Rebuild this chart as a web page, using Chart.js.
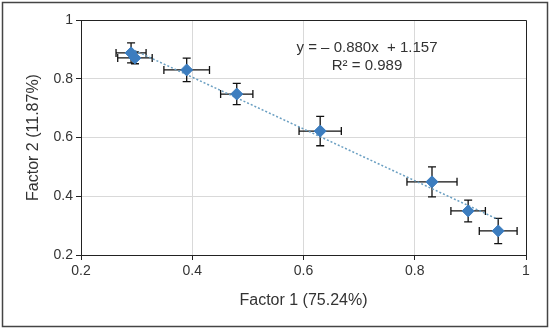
<!DOCTYPE html>
<html>
<head>
<meta charset="utf-8">
<script src="https://cdn.jsdelivr.net/npm/chart.js@4/dist/chart.umd.min.js"></script>
<style>
  html, body { margin: 0; padding: 0; background: #fff; }
  #wrap { width: 550px; height: 330px; }
</style>
</head>
<body>
<div id="wrap"><canvas id="myChart" width="550" height="330"></canvas></div>
<script>
// values
var factor1 = [0.290, 0.297, 0.390, 0.480, 0.630, 0.831, 0.896, 0.950];
var factor2 = [0.888, 0.871, 0.830, 0.748, 0.622, 0.449, 0.350, 0.282];
var err1 = [0.027, 0.031, 0.041, 0.029, 0.038, 0.045, 0.031, 0.034];
var err2 = [0.034, 0.020, 0.040, 0.036, 0.050, 0.051, 0.037, 0.043];
// trend line ends
var trendX = [0.29, 0.95];
var trendY = [0.902, 0.321];
var eqLines = ['y = \u2013 0.880x  + 1.157', 'R\u00b2 = 0.989'];

var FONT = "'Liberation Sans', Arial, sans-serif";
var TXT = '#333';

var pts = [];
for (var i = 0; i < factor1.length; i++) pts.push({x: factor1[i], y: factor2[i]});
var trend = [];
for (var j = 0; j < trendX.length; j++) trend.push({x: trendX[j], y: trendY[j]});

// error bars, drawn under the markers
var errorBars = {
  id: 'errorBars',
  beforeDatasetsDraw: function(chart) {
    var ctx = chart.ctx, xs = chart.scales.x, ys = chart.scales.y;
    ctx.save();
    ctx.strokeStyle = '#111';
    ctx.lineWidth = 1.3;
    for (var i = 0; i < factor1.length; i++) {
      var px = xs.getPixelForValue(factor1[i]);
      var py = ys.getPixelForValue(factor2[i]);
      var x0 = xs.getPixelForValue(factor1[i] - err1[i]);
      var x1 = xs.getPixelForValue(factor1[i] + err1[i]);
      var y0 = ys.getPixelForValue(factor2[i] + err2[i]);
      var y1 = ys.getPixelForValue(factor2[i] - err2[i]);
      ctx.beginPath();
      ctx.moveTo(x0, py); ctx.lineTo(x1, py);
      ctx.moveTo(x0, py - 4); ctx.lineTo(x0, py + 4);
      ctx.moveTo(x1, py - 4); ctx.lineTo(x1, py + 4);
      ctx.moveTo(px, y0); ctx.lineTo(px, y1);
      ctx.moveTo(px - 4, y0); ctx.lineTo(px + 4, y0);
      ctx.moveTo(px - 4, y1); ctx.lineTo(px + 4, y1);
      ctx.stroke();
    }
    ctx.restore();
  }
};

// plot frame, equation text and outer border
var extras = {
  id: 'extras',
  afterDraw: function(chart) {
    var ctx = chart.ctx, a = chart.chartArea;
    ctx.save();
    ctx.strokeStyle = '#222';
    ctx.lineWidth = 1;
    ctx.beginPath();
    ctx.moveTo(a.left, a.top + 0.5); ctx.lineTo(a.right + 0.5, a.top + 0.5);
    ctx.lineTo(a.right + 0.5, a.bottom);
    ctx.stroke();

    ctx.fillStyle = TXT;
    ctx.font = '15px ' + FONT;
    ctx.textAlign = 'center';
    ctx.textBaseline = 'middle';
    ctx.fillText(eqLines[0], 367, 48);
    ctx.fillText(eqLines[1], 367, 66);

    ctx.strokeStyle = '#444';
    ctx.lineWidth = 1.5;
    ctx.strokeRect(2.5, 2.5, 545, 324);
    ctx.restore();
  }
};

var config = {
  type: 'scatter',
  data: {
    datasets: [{
      type: 'line',
      data: trend,
      borderColor: '#6a9fc2',
      borderWidth: 1.5,
      borderDash: [2, 2],
      pointRadius: 0,
      fill: false,
      order: 2
    }, {
      data: pts,
      pointStyle: 'rectRot',
      pointRadius: 6,
      pointHoverRadius: 6,
      backgroundColor: '#3c7dbf',
      borderColor: '#3c7dbf',
      borderWidth: 1,
      order: 1
    }]
  },
  options: {
    responsive: false,
    animation: false,
    events: [],
    layout: { padding: { left: 24, right: 24, top: 20, bottom: 20 } },
    plugins: { legend: { display: false }, tooltip: { enabled: false } },
    scales: {
      x: {
        type: 'linear',
        min: 0.2, max: 1,
        ticks: {
          stepSize: 0.2, color: TXT, padding: 3,
          font: { family: FONT, size: 14 },
          callback: function(v) { return String(Math.round(v * 10) / 10); }
        },
        grid: { color: '#d9d9d9', tickColor: '#222', tickLength: 5 },
        border: { color: '#222', width: 1 },
        title: { display: true, text: 'Factor 1 (75.24%)', color: TXT, font: { family: FONT, size: 16 }, padding: 0 },
        afterFit: function(s) { s.height = 55; }
      },
      y: {
        type: 'linear',
        min: 0.2, max: 1,
        ticks: {
          stepSize: 0.2, color: TXT, padding: 3,
          font: { family: FONT, size: 14 },
          callback: function(v) { return String(Math.round(v * 10) / 10); }
        },
        grid: { color: '#d9d9d9', tickColor: '#222', tickLength: 5 },
        border: { color: '#222', width: 1 },
        title: { display: true, text: 'Factor 2 (11.87%)', color: TXT, font: { family: FONT, size: 16 }, padding: 0 },
        afterFit: function(s) { s.width = 57; }
      }
    }
  },
  plugins: [errorBars, extras]
};

var myChart = new Chart(document.getElementById('myChart'), config);
</script>
</body>
</html>
